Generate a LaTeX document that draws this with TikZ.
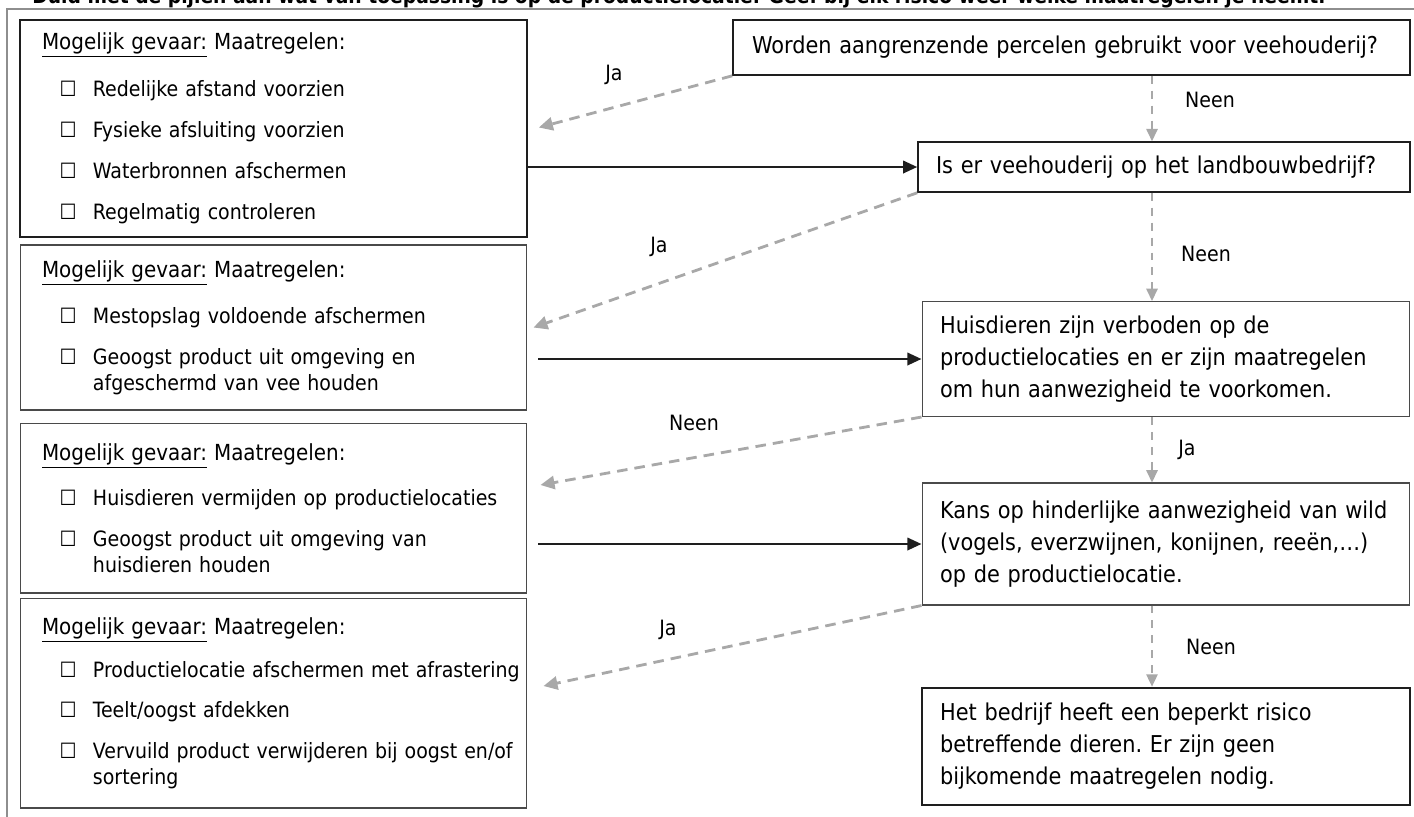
\documentclass[tikz,border=0pt]{standalone}
\usepackage{fontspec}
\setmainfont{DejaVu Sans Condensed}
\usepackage{xcolor}
\usetikzlibrary{calc,arrows.meta}
\definecolor{lijn}{HTML}{1E1E1E}
\definecolor{dun}{HTML}{4A4A4A}
\definecolor{stippel}{HTML}{A8A8A8}
\definecolor{kader}{HTML}{8E8E8E}
\tikzset{
  maat/.style={draw=dun, line width=0.6pt, text width=10.04cm, inner xsep=0.05cm, align=left,
    font=\fontsize{12}{14.5}\selectfont, execute at begin node={\leftskip=0.39cm\frenchspacing}},
  vraag/.style={draw=dun, line width=0.6pt, inner xsep=0.05cm, align=left,
    font=\fontsize{13.2}{18.2}\selectfont, execute at begin node={\leftskip=0.31cm\frenchspacing}},
  zwart/.style={draw=lijn, line width=1.4pt, -{Triangle[length=8pt,width=7pt]}},
  grijs/.style={draw=stippel, line width=1.6pt, dash pattern=on 6pt off 4pt,
    -{Triangle[length=8pt,width=7.5pt]}, stippel},
  grijsdun/.style={draw=stippel, line width=0.8pt, dash pattern=on 4.5pt off 4pt,
    -{Triangle[length=7pt,width=6.5pt]}, stippel},
  lab/.style={font=\fontsize{12}{14}\selectfont, inner sep=0pt}
}
\begin{document}
\begin{tikzpicture}[x=0.02cm, y=-0.02cm]
  \def\vak{\hspace*{10pt}\makebox[19pt][l]{☐}}
  \def\kop{{\fontsize{12.6}{14.5}\selectfont\underline{Mogelijk gevaar:} Maatregelen:}}
  \useasboundingbox (0,0) rectangle (1414,816);
  \clip (0,0) rectangle (1414,816);
  % opdracht, bovenaan afgesneden
  \node[anchor=base west, inner sep=0pt, font=\bfseries\fontsize{11.85}{13}\selectfont] (opdracht) at (32,3)
    {Duid met de pijlen aan wat van toepassing is op de productielocatie. Geef bij elk risico weer welke maatregelen je neemt.};
  \draw[kader, line width=1.2pt] (7,830) -- (7,9) -- (1430,9);

  % maatregelen (links)
  \node[maat, draw=lijn, line width=1pt, minimum height=4.34cm] (mL1) at (273.5,128.5)
    {\kop\\[12pt]
     \vak Redelijke afstand voorzien\\[9pt]
     \vak Fysieke afsluiting voorzien\\[9pt]
     \vak Waterbronnen afschermen\\[9pt]
     \vak Regelmatig controleren};
  \node[maat, minimum height=3.3cm] (mL2) at (273.5,327.5)
    {\kop\\[12pt]
     \vak Mestopslag voldoende afschermen\\[9pt]
     \vak Geoogst product uit omgeving en\\
     \hspace*{29pt}afgeschermd van vee houden};
  \node[maat, minimum height=3.4cm] (mL3) at (273.5,508)
    {\kop\\[11pt]
     \vak Huisdieren vermijden op productielocaties\\[9pt]
     \vak Geoogst product uit omgeving van\\
     \hspace*{29pt}huisdieren houden};
  \node[maat, minimum height=4.2cm] (mL4) at (273.5,703)
    {\kop\\[10pt]
     \vak Productielocatie afschermen met afrastering\\[8.5pt]
     \vak Teelt/oogst afdekken\\[9pt]
     \vak Vervuild product verwijderen bij oogst en/of\\
     \hspace*{29pt}sortering};

  % vragen (rechts)
  \node[vraag, draw=lijn, line width=0.9pt, text width=13.44cm, minimum height=1.1cm,
    execute at begin node={\leftskip=0.33cm}] (qR1) at (1071.5,47.5)
    {Worden aangrenzende percelen gebruikt voor veehouderij?};
  \node[vraag, draw=lijn, line width=0.9pt, text width=9.74cm, minimum height=1.0cm] (qR2) at (1164,167)
    {Is er veehouderij op het landbouwbedrijf?};
  \node[vraag, text width=9.66cm, minimum height=2.3cm] (qR3) at (1166,359)
    {Huisdieren zijn verboden op de\\ productielocaties en er zijn maatregelen\\ om hun aanwezigheid te voorkomen.};
  \node[vraag, text width=9.66cm, minimum height=2.44cm] (qR4) at (1166,544)
    {Kans op hinderlijke aanwezigheid van wild\\ (vogels, everzwijnen, konijnen, reeën,…)\\ op de productielocatie.};
  \node[vraag, draw=lijn, line width=1.6pt, text width=9.66cm, minimum height=2.34cm] (qR5) at (1166,746.5)
    {Het bedrijf heeft een beperkt risico\\ betreffende dieren. Er zijn geen\\ bijkomende maatregelen nodig.};

  % neen-pijlen naar beneden
  \coordinate (as) at (1152,0);
  \draw[grijsdun] (qR1.south -| as) -- (qR2.north -| as);
  \draw[grijsdun] (qR2.south -| as) -- (qR3.north -| as);
  \draw[grijsdun] (qR3.south -| as) -- (qR4.north -| as);
  \draw[grijsdun] (qR4.south -| as) -- (qR5.north -| as);
  \node[lab] (n1) at (1210,100) {Neen};
  \node[lab] (n2) at (1206,254) {Neen};
  \node[lab] (j3) at (1187,450) {Ja};
  \node[lab] (n4) at (1211,647) {Neen};

  % schuine pijlen naar de maatregelen
  \draw[grijs] (qR1.south west) -- ($(mL1.east)+(11,-1)$);
  \draw[grijs] (qR2.south west) -- ($(mL2.east)+(6,0)$);
  \draw[grijs] (qR3.south west) -- ($(mL3.east)+(13,-23)$);
  \draw[grijs] (qR4.south west) -- ($(mL4.east)+(16,-17)$);
  \node[lab] (j1) at (614,75) {Ja};
  \node[lab] (j2) at (659,247) {Ja};
  \node[lab] (n3) at (694,423) {Neen};
  \node[lab] (j4) at (668,630) {Ja};

  % terug naar de volgende vraag
  \draw[zwart] (mL1.east |- qR2.west) -- (qR2.west);
  \draw[zwart, shorten <=6pt] (mL2.east |- qR3.west) -- (qR3.west);
  \draw[zwart, shorten <=6pt] (mL3.east |- qR4.west) -- (qR4.west);
\end{tikzpicture}
\end{document}
